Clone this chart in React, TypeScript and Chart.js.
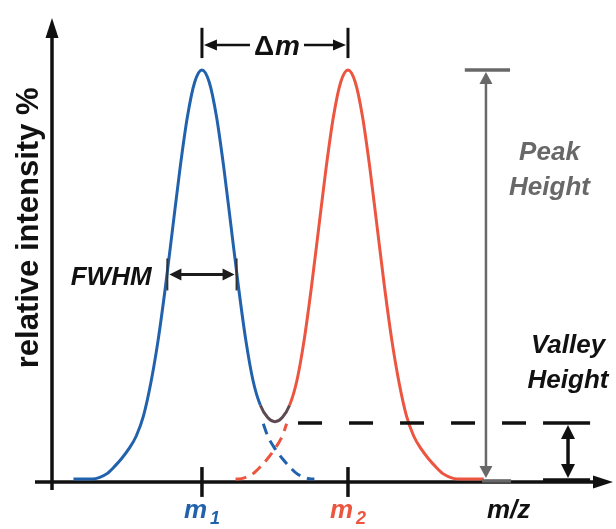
import React, { useEffect, useRef } from "react";
import { Chart, registerables } from "chart.js";

Chart.register(...registerables);

// ---- data ----
// solid envelope (sum of both peaks), x in m/z units, y in % relative intensity
const envelopeX = [91.2, 92.5, 93, 93.5, 94, 94.5, 95, 95.5, 96, 96.5, 97, 97.5, 98, 98.5, 99, 99.5, 100, 100.5, 101, 101.5, 102, 102.5, 103, 103.5, 104, 104.5, 105, 105.5, 106, 106.5, 107, 107.5, 108, 108.5, 109, 109.5, 110, 110.5, 111, 111.5, 112, 112.5, 113, 113.5, 114, 114.5, 115, 115.5, 116, 116.5, 117, 117.5, 119.3];
const envelopeY = [0, 0, 0.4, 1.3, 3, 5, 7.4, 10.5, 15.5, 23.5, 34, 47, 61.5, 76, 88.5, 97, 100, 97, 88.5, 76, 61.5, 47, 34, 24, 18, 15, 14, 15, 18, 24, 34, 47, 61.5, 76, 88.5, 97, 100, 97, 88.5, 76, 61.5, 47, 34, 23.5, 15.5, 10.5, 7.4, 5, 3, 1.3, 0.4, 0, 0];
// dashed hidden tails of the individual peaks
const blueTailX = [104.2, 104.5, 105, 105.5, 106, 106.5, 107, 107.5, 107.7];
const blueTailY = [13.5, 10.5, 7.4, 5, 3, 1.3, 0.4, 0, 0];
const redTailX = [102.3, 102.5, 103, 103.5, 104, 104.5, 105, 105.5, 105.8];
const redTailY = [0, 0, 0.4, 1.3, 3, 5, 7.4, 10.5, 13.5];

const M1 = 100;
const M2 = 110;
const MZ_LABEL_X = 121.0;
const PEAK_LEVEL = 100;
const VALLEY_LEVEL = 13.7;
const HALF_LEVEL = 50;
const FWHM_ENDS = [97.63, 102.37];
const PEAK_BAR_X = 119.45;
const PEAK_CAP = [118.0, 121.1];
const VALLEY_BAR_X = 125.07;
const VALLEY_CAP = [123.36, 126.58];
const DASH_RANGE = [106.58, 122.26];
const DELTA_LEVEL = 106.1;
const DELTA_BAR = [102.9, 110.3];
const DELTA_TEXT_LEVEL = 103.7;
const LABEL_LEVEL = -9.5;
const TICK_RANGE = [2.9, -4.4];
const PEAK_TEXT_X = 123.8;
const PEAK_TEXT_LEVELS = [78.0, 69.4];
const VALLEY_TEXT_LEVELS = [30.8, 22.25];
const FWHM_TEXT_X = 96.55;
const FWHM_TEXT_LEVEL = 47.4;
const YTITLE_LEVEL = 61.4;

const X_MIN = 89.73;
const X_MAX = 128.15;
const Y_MIN = -0.75;
const Y_MAX = 112.7;

const BLUE = "#2262ad";
const RED = "#ec5640";
const VALLEY_COL = "#5e4a52";
const INK = "#111111";
const GRAY = "#686868";
const FONT = '"Liberation Sans", Arial, sans-serif';

function head(ctx: CanvasRenderingContext2D, x: number, y: number, ang: number, len: number, w: number, col: string) {
  ctx.save();
  ctx.translate(x, y);
  ctx.rotate(ang);
  ctx.fillStyle = col;
  ctx.beginPath();
  ctx.moveTo(0, 0);
  ctx.lineTo(-len, -w / 2);
  ctx.lineTo(-len, w / 2);
  ctx.closePath();
  ctx.fill();
  ctx.restore();
}

function line(ctx: CanvasRenderingContext2D, x1: number, y1: number, x2: number, y2: number, col: string, w: number, dash: number[] = []) {
  ctx.save();
  ctx.strokeStyle = col;
  ctx.lineWidth = w;
  ctx.setLineDash(dash);
  ctx.beginPath();
  ctx.moveTo(x1, y1);
  ctx.lineTo(x2, y2);
  ctx.stroke();
  ctx.restore();
}

const axesPlugin = {
  id: "axesDraw",
  beforeDatasetsDraw(chart: any) {
    const { ctx, chartArea, scales } = chart;
    const xs = scales.x, ys = scales.y;
    const axisY = ys.getPixelForValue(Y_MIN);
    const left = chartArea.left;
    const top = ys.getPixelForValue(Y_MAX);
    // y axis
    line(ctx, left, top + 14, left, axisY + 8, INK, 3.5);
    head(ctx, left, top, -Math.PI / 2, 20, 13, INK);
    // x axis
    line(ctx, left - 17, axisY, chartArea.right - 14, axisY, INK, 3.5);
    head(ctx, chartArea.right, axisY, 0, 20, 13, INK);
    // ticks
    [M1, M2].forEach((m) => {
      const px = xs.getPixelForValue(m);
      line(ctx, px, ys.getPixelForValue(TICK_RANGE[0]), px, ys.getPixelForValue(TICK_RANGE[1]), INK, 3.5);
    });
  },
};

function subLabel(ctx: CanvasRenderingContext2D, cx: number, y: number, main: string, sub: string, col: string) {
  ctx.save();
  ctx.fillStyle = col;
  ctx.textBaseline = "alphabetic";
  ctx.textAlign = "left";
  ctx.font = `italic bold 26px ${FONT}`;
  const w1 = ctx.measureText(main).width;
  ctx.font = `italic bold 18px ${FONT}`;
  const w2 = ctx.measureText(sub).width;
  const start = cx - (w1 + 3 + w2) / 2;
  ctx.font = `italic bold 26px ${FONT}`;
  ctx.fillText(main, start, y);
  ctx.font = `italic bold 18px ${FONT}`;
  ctx.fillText(sub, start + w1 + 3, y + 6);
  ctx.restore();
}

function text(ctx: CanvasRenderingContext2D, s: string, x: number, y: number, col: string, align: CanvasTextAlign, font: string) {
  ctx.save();
  ctx.fillStyle = col;
  ctx.font = font;
  ctx.textAlign = align;
  ctx.textBaseline = "alphabetic";
  ctx.fillText(s, x, y);
  ctx.restore();
}

const annotPlugin = {
  id: "annotDraw",
  afterDatasetsDraw(chart: any) {
    const { ctx, chartArea, scales } = chart;
    const xs = scales.x, ys = scales.y;
    const X = (v: number) => xs.getPixelForValue(v);
    const Y = (v: number) => ys.getPixelForValue(v);
    const itb = `italic bold 26px ${FONT}`;

    // axis title
    ctx.save();
    ctx.translate(chartArea.left - 23, Y(YTITLE_LEVEL));
    ctx.rotate(-Math.PI / 2);
    ctx.fillStyle = INK;
    ctx.font = `bold 31px ${FONT}`;
    ctx.textAlign = "center";
    ctx.textBaseline = "middle";
    ctx.fillText("relative intensity %", 0, 0);
    ctx.restore();

    // Δm
    const dTop = Y(DELTA_BAR[1]), dBot = Y(DELTA_BAR[0]), dy = Y(DELTA_LEVEL);
    line(ctx, X(M1), dTop, X(M1), dBot, INK, 3);
    line(ctx, X(M2), dTop, X(M2), dBot, INK, 3);
    ctx.save();
    ctx.font = `bold 28px ${FONT}`;
    const wD = ctx.measureText("\u0394").width;
    ctx.font = `italic bold 28px ${FONT}`;
    const wM = ctx.measureText("m").width;
    ctx.restore();
    const cx = X((M1 + M2) / 2) + 2;
    const tStart = cx - (wD + wM + 1) / 2;
    const tEnd = cx + (wD + wM + 1) / 2;
    text(ctx, "\u0394", tStart, Y(DELTA_TEXT_LEVEL), INK, "left", `bold 28px ${FONT}`);
    text(ctx, "m", tStart + wD + 1, Y(DELTA_TEXT_LEVEL), INK, "left", `italic bold 28px ${FONT}`);
    line(ctx, X(M1) + 10, dy, tStart - 4, dy, INK, 2.5);
    head(ctx, X(M1) + 2, dy, Math.PI, 13, 11, INK);
    line(ctx, tEnd + 4, dy, X(M2) - 10, dy, INK, 2.5);
    head(ctx, X(M2) - 2, dy, 0, 13, 11, INK);

    // FWHM
    const fy = Y(HALF_LEVEL);
    const fl = X(FWHM_ENDS[0]), fr = X(FWHM_ENDS[1]);
    line(ctx, fl, fy - 16, fl, fy + 16, "#333", 2);
    line(ctx, fr, fy - 16, fr, fy + 16, "#333", 2);
    line(ctx, fl + 8, fy, fr - 8, fy, "#1c1c1c", 3);
    head(ctx, fl + 2, fy, Math.PI, 12, 12, "#1c1c1c");
    head(ctx, fr - 2, fy, 0, 12, 12, "#1c1c1c");
    text(ctx, "FWHM", X(FWHM_TEXT_X), Y(FWHM_TEXT_LEVEL), INK, "right", itb);

    // Peak height
    const pTop = Y(PEAK_LEVEL), pBot = Y(0);
    line(ctx, X(PEAK_CAP[0]), pTop, X(PEAK_CAP[1]), pTop, GRAY, 3.5);
    line(ctx, X(PEAK_BAR_X), pTop + 8, X(PEAK_BAR_X), pBot - 8, GRAY, 2.5);
    head(ctx, X(PEAK_BAR_X), pTop + 2, -Math.PI / 2, 12, 13, GRAY);
    head(ctx, X(PEAK_BAR_X), pBot - 1, Math.PI / 2, 12, 13, GRAY);
    line(ctx, X(PEAK_BAR_X) - 4, pBot + 2, X(PEAK_CAP[1]) + 1, pBot + 2, GRAY, 3.5);
    text(ctx, "Peak", X(PEAK_TEXT_X), Y(PEAK_TEXT_LEVELS[0]), GRAY, "center", itb);
    text(ctx, "Height", X(PEAK_TEXT_X), Y(PEAK_TEXT_LEVELS[1]), GRAY, "center", itb);

    // Valley
    const vy = Y(VALLEY_LEVEL);
    line(ctx, X(DASH_RANGE[0]), vy, X(DASH_RANGE[1]), vy, INK, 3.5, [24, 27]);
    line(ctx, X(VALLEY_CAP[0]), vy, X(VALLEY_CAP[1]), vy, INK, 3.5);
    line(ctx, X(VALLEY_CAP[0]), pBot + 1, X(VALLEY_CAP[1]), pBot + 1, INK, 3.5);
    line(ctx, X(VALLEY_BAR_X), vy + 10, X(VALLEY_BAR_X), pBot - 10, INK, 3.5);
    head(ctx, X(VALLEY_BAR_X), vy + 2, -Math.PI / 2, 14, 14, INK);
    head(ctx, X(VALLEY_BAR_X), pBot - 1, Math.PI / 2, 14, 14, INK);
    text(ctx, "Valley", X(VALLEY_BAR_X), Y(VALLEY_TEXT_LEVELS[0]), INK, "center", itb);
    text(ctx, "Height", X(VALLEY_BAR_X), Y(VALLEY_TEXT_LEVELS[1]), INK, "center", itb);

    // x labels
    const ly = Y(LABEL_LEVEL);
    subLabel(ctx, X(M1), ly, "m", "1", BLUE);
    subLabel(ctx, X(M2), ly, "m", "2", RED);
    text(ctx, "m/z", X(MZ_LABEL_X), ly, INK, "center", itb);
  },
};

const toPts = (xs: number[], ys: number[]) => xs.map((x, i) => ({ x, y: ys[i] }));

export default function App() {
  const ref = useRef<HTMLCanvasElement | null>(null);
  useEffect(() => {
    if (!ref.current) return;
    const chart = new Chart(ref.current, {
      type: "line",
      data: {
        datasets: [
          {
            data: toPts(redTailX, redTailY),
            borderColor: RED,
            borderWidth: 3,
            borderDash: [11, 7],
            pointRadius: 0,
            cubicInterpolationMode: "monotone",
          },
          {
            data: toPts(blueTailX, blueTailY),
            borderColor: BLUE,
            borderWidth: 3,
            borderDash: [11, 7],
            pointRadius: 0,
            cubicInterpolationMode: "monotone",
          },
          {
            data: toPts(envelopeX, envelopeY),
            borderColor: BLUE,
            borderWidth: 3,
            pointRadius: 0,
            cubicInterpolationMode: "monotone",
            segment: {
              borderColor: (c: any) => {
                const mid = (c.p0.parsed.x + c.p1.parsed.x) / 2;
                if (mid < 104.2) return BLUE;
                if (mid > 105.8) return RED;
                return VALLEY_COL;
              },
            },
          },
        ],
      },
      options: {
        animation: false,
        responsive: false,
        layout: { padding: { left: 52, right: 3, top: 18, bottom: 47 } },
        plugins: { legend: { display: false }, tooltip: { enabled: false } },
        scales: {
          x: { type: "linear", min: X_MIN, max: X_MAX, display: false },
          y: { type: "linear", min: Y_MIN, max: Y_MAX, display: false },
        },
      },
      plugins: [axesPlugin, annotPlugin],
    } as any);
    return () => chart.destroy();
  }, []);
  return (
    <div style={{ position: "fixed", left: 0, top: 0, width: 616, height: 529, background: "#fff" }}>
      <canvas ref={ref} width={616} height={529} style={{ width: 616, height: 529, display: "block" }} />
    </div>
  );
}
